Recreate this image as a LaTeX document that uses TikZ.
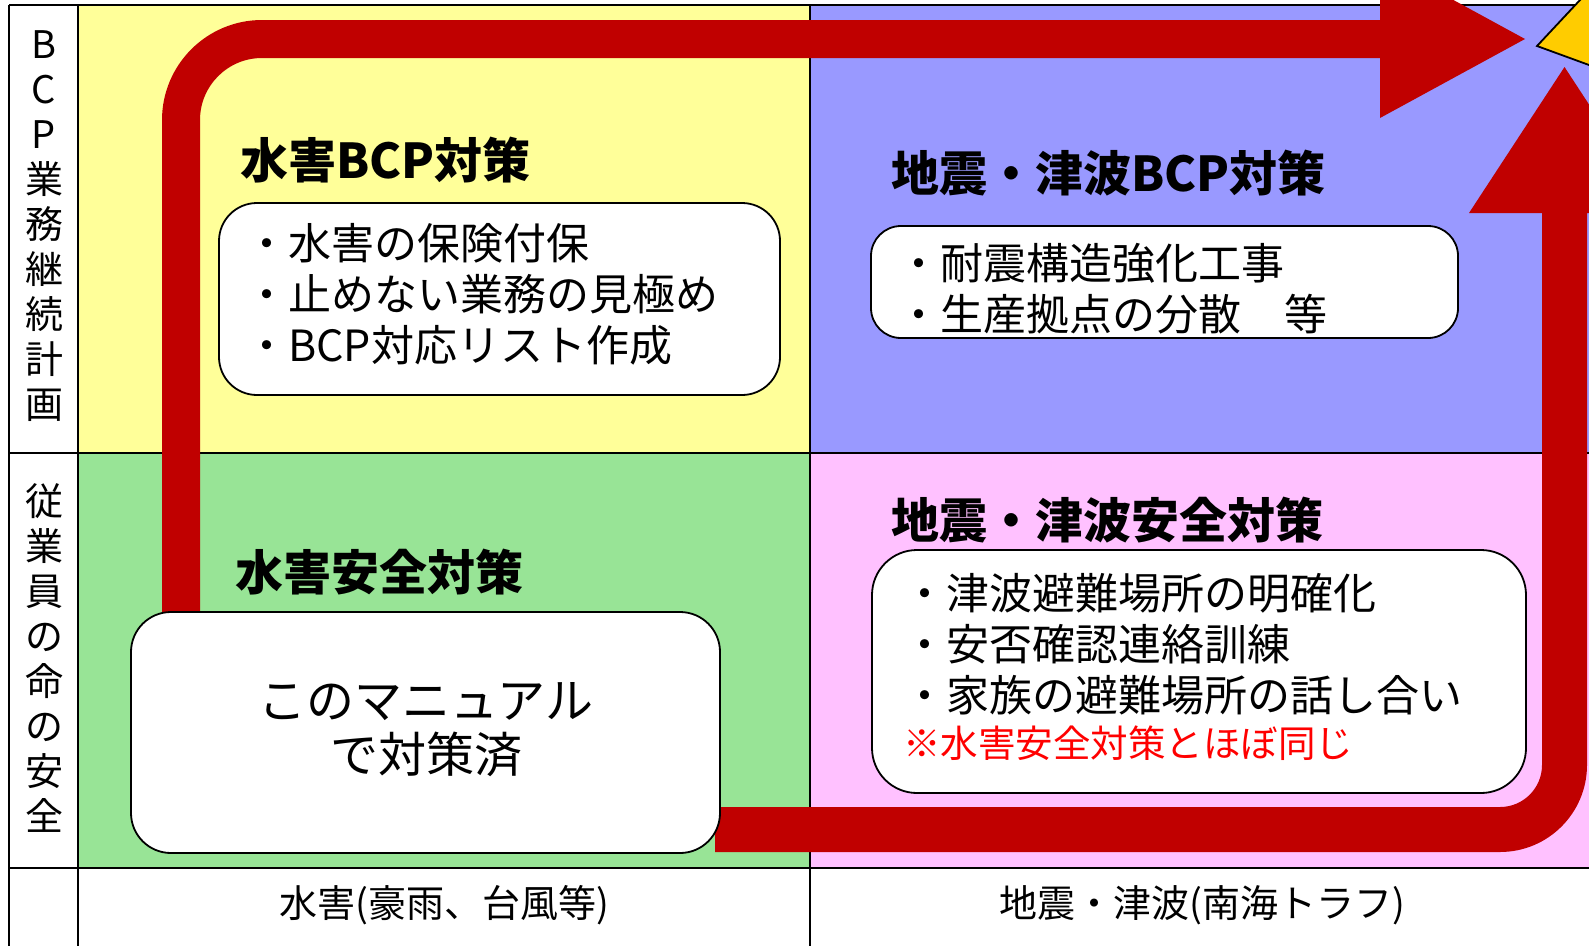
\documentclass[tikz,border=0pt]{standalone}
\usepackage{fontspec}
\setmainfont{Noto Sans CJK JP}
\definecolor{cYellow}{RGB}{255,255,153}
\definecolor{cBlue}{RGB}{153,153,255}
\definecolor{cGreen}{RGB}{152,228,150}
\definecolor{cPink}{RGB}{255,193,255}
\definecolor{cRed}{RGB}{192,0,0}
\definecolor{cStar}{RGB}{255,204,0}
\definecolor{cNote}{RGB}{255,0,0}
\tikzset{
  grid line/.style={line width=2bp, draw=black},
  band/.style={fill=cRed, draw=none},
  panel/.style={draw=black, line width=1.8bp, fill=white, inner sep=0pt},
  body/.style={font=\fontsize{43bp}{51bp}\selectfont, align=left, inner sep=0pt, anchor=west},
  head/.style={font=\bfseries\fontsize{48bp}{52bp}\selectfont, inner sep=0pt, anchor=west},
  side/.style={font=\fontsize{38bp}{45bp}\selectfont, align=center, inner sep=0pt},
  axislabel/.style={font=\fontsize{38bp}{40bp}\selectfont, inner sep=0pt},
}
\begin{document}
\begin{tikzpicture}[x=1bp, y=-1bp]
\useasboundingbox (0,0) rectangle (1589,945);
\clip (0,0) rectangle (1589,945);
% backgrounds
\fill[white] (0,0) rectangle (1589,945);
\fill[cYellow] (78,5) rectangle (810,453);
\fill[cBlue] (810,5) rectangle (1600,453);
\fill[cGreen] (78,453) rectangle (810,868);
\fill[cPink] (810,453) rectangle (1600,868);
% grid
\draw[grid line] (9,5) -- (1600,5);
\draw[grid line] (9,453) -- (1600,453);
\draw[grid line] (9,868) -- (1600,868);
\draw[grid line] (9,5) -- (9,960);
\draw[grid line] (78,5) -- (78,960);
\draw[grid line] (810,5) -- (810,960);
% red bent arrow (top)
\fill[band] (162,640) -- (162,120) arc[start angle=180, end angle=270, radius=100]
  -- (1380,20) -- (1380,-40) -- (1525,39) -- (1380,118) -- (1380,58)
  -- (262,58) arc[start angle=270, end angle=180, radius=62] -- (200,640) -- cycle;
% red bent arrow (bottom right)
\fill[band] (715,807) -- (1500,807) arc[start angle=90, end angle=0, radius=42]
  -- (1542,213) -- (1469,213) -- (1564.5,67) -- (1660,213) -- (1587,213)
  -- (1587,765) arc[start angle=0, end angle=90, radius=87] -- (715,852) -- cycle;
% star
\filldraw[fill=cStar, draw=black, line width=1.8bp] (1537,46) -- (1623,-46) -- (1700,-20) -- (1700,100) -- (1641,84) -- cycle;
% boxes
\node[panel, rounded corners=38bp, minimum width=561bp, minimum height=192bp] (b1) at (499.5,299) {};
\node[panel, rounded corners=30bp, minimum width=587bp, minimum height=112bp] (b2) at (1164.5,282) {};
\node[panel, rounded corners=45bp, minimum width=654bp, minimum height=243bp] (b3) at (1199,671.5) {};
\node[panel, rounded corners=40bp, minimum width=589bp, minimum height=241bp] (b4) at (425.5,732.5) {};
% headings
\node[head] (h1) at (240,160) {水害BCP対策};
\node[head] (h2) at (891,173) {地震・津波BCP対策};
\node[head] (h3) at (891,520) {地震・津波安全対策};
\node[head] (h4) at (235,572) {水害安全対策};
% box texts
\node[body] (t1) at (245,294) {・水害の保険付保\\・止めない業務の見極め\\・BCP対応リスト作成};
\node[body] (t2) at (897,289) {・耐震構造強化工事\\・生産拠点の分散　等};
\node[body] (t3) at (903,644) {・津波避難場所の明確化\\・安否確認連絡訓練\\・家族の避難場所の話し合い};
\node[body, font=\fontsize{37.5bp}{45bp}\selectfont, text=cNote] (t3n) at (903,743) {※水害安全対策とほぼ同じ};
\node[body, align=center, anchor=center, font=\fontsize{48bp}{54bp}\selectfont] (t4) at (426,730) {このマニュアル\\で対策済};
% side labels
\node[side] (s1) at (44,226) {B\\C\\P\\業\\務\\継\\続\\計\\画};
\node[side] (s2) at (44,658) {従\\業\\員\\の\\命\\の\\安\\全};
% axis labels
\node[axislabel] (a1) at (444,905) {水害(豪雨、台風等)};
\node[axislabel] (a2) at (1202,905) {地震・津波(南海トラフ)};
\end{tikzpicture}
\end{document}
